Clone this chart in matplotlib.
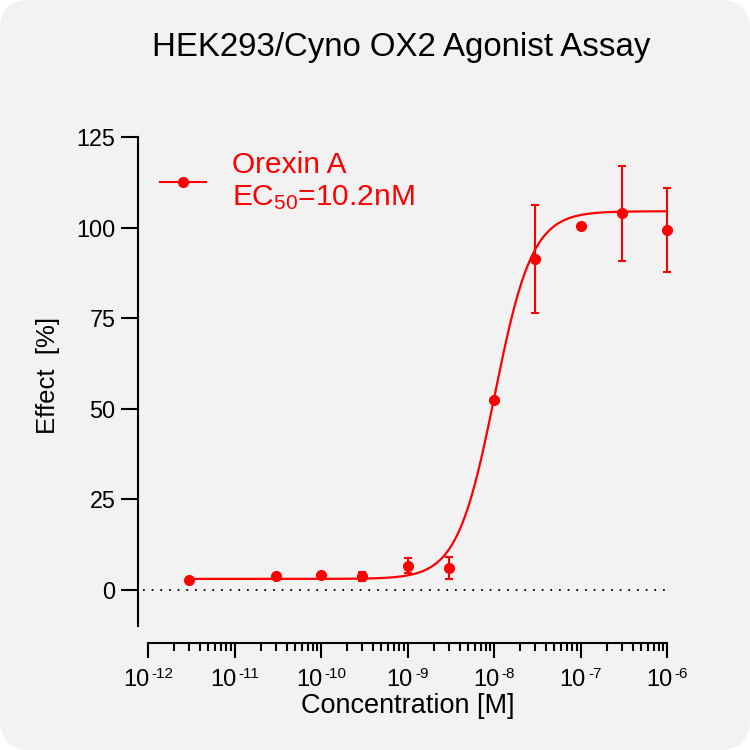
import numpy as np
import matplotlib
matplotlib.use("Agg")
import matplotlib.pyplot as plt
from matplotlib.lines import Line2D
from matplotlib.patches import FancyBboxPatch
from matplotlib.ticker import FixedLocator, LogLocator, NullFormatter

plt.rcParams['font.family'] = ['Liberation Sans', 'DejaVu Sans']
plt.rcParams['mathtext.fontset'] = 'custom'
plt.rcParams['mathtext.rm'] = 'Liberation Sans'
plt.rcParams['mathtext.it'] = 'Liberation Sans:italic'
plt.rcParams['mathtext.bf'] = 'Liberation Sans:bold'

# ---- data ----
conc = [3e-12, 3e-11, 1e-10, 3e-10, 1e-9, 3e-9, 1e-8, 3e-8, 1e-7, 3e-7, 1e-6]
effect = [2.8, 3.8, 4.0, 3.7, 6.7, 6.0, 52.4, 91.3, 100.4, 103.9, 99.3]
sem = [0.0, 0.0, 0.0, 1.3, 2.2, 3.1, 0.0, 14.9, 0.0, 13.1, 11.6]

# 4PL fit parameters
fit_bottom = 3.0
fit_top = 104.5
fit_ec50 = 1.02e-8
fit_hill = 2.0

x_ticks = [1e-12, 1e-11, 1e-10, 1e-9, 1e-8, 1e-7, 1e-6]
x_tick_base = "10"
x_exponents = ['-12', '-11', '-10', '-9', '-8', '-7', '-6']
y_ticks = [0, 25, 50, 75, 100, 125]

title = "HEK293/Cyno OX2 Agonist Assay"
series_label = "Orexin A\nEC$_{50}$=10.2nM"
RED = '#ff0000'

# ---- figure ----
fig = plt.figure(figsize=(7.5, 7.5), dpi=100)
fig.patch.set_facecolor('white')
bg = FancyBboxPatch((0, 0), 1, 1, boxstyle="round,pad=0,rounding_size=0.04",
                    transform=fig.transFigure, facecolor='#f2f2f2', edgecolor='none', zorder=-10)
fig.patches.append(bg)

ax = fig.add_axes([148/750, 1-626/750, (667-148)/750, (626-137)/750])
ax.set_facecolor('none')
ax.set_xscale('log')
ax.set_xlim(1e-12, 1e-6)
ax.set_ylim(-10, 125)

# zero reference line
ax.axhline(0, xmin=-0.01, xmax=1.0, color='black', ls=(0, (1, 3.8)), lw=1.3, clip_on=False, zorder=1)

# fitted curve
xs = np.logspace(np.log10(conc[0]), np.log10(conc[-1]), 500)
ys = fit_bottom + (fit_top - fit_bottom) / (1 + (fit_ec50 / xs) ** fit_hill)
ax.plot(xs, ys, color=RED, lw=1.6, zorder=3, clip_on=False)

# error bars (only where present)
c = np.array(conc); e = np.array(effect); s = np.array(sem)
m = s > 0
eb = ax.errorbar(c[m], e[m], yerr=s[m], fmt='none', ecolor=RED, elinewidth=1.5,
                 capsize=3, capthick=1.5, zorder=4)
for art in eb.lines[1] + eb.lines[2]:
    art.set_clip_on(False)
ax.plot(c, e, 'o', color=RED, ms=7, zorder=5, clip_on=False)

# spines
for sp in ['top', 'right']:
    ax.spines[sp].set_visible(False)
ax.spines['left'].set_position(('outward', 7.2))
ax.spines['bottom'].set_position(('outward', 12.2))
ax.spines['left'].set_linewidth(1.5)
ax.spines['bottom'].set_linewidth(1.5)

ax.yaxis.set_major_locator(FixedLocator(y_ticks))
ax.tick_params(axis='y', which='major', length=12.2, width=1.5, labelsize=16.8, pad=4)
ax.xaxis.set_major_locator(FixedLocator(x_ticks))
ax.xaxis.set_minor_locator(LogLocator(base=10, subs=np.arange(2, 10), numticks=20))
ax.xaxis.set_minor_formatter(NullFormatter())
ax.tick_params(axis='x', which='major', length=10.8, width=1.5, labelbottom=False)
ax.tick_params(axis='x', which='minor', length=5.8, width=1.5)

# x tick labels: "10" with a small raised exponent, centred on each tick
renderer = fig.canvas.get_renderer()
GAP = 2.0
BASE_Y = -60
SUP_Y = -52
for t, ex in zip(x_ticks, x_exponents):
    a = ax.annotate(x_tick_base, xy=(t, 0), xycoords=ax.get_xaxis_transform(),
                    xytext=(0, BASE_Y), textcoords='offset pixels', ha='left', va='baseline',
                    fontsize=17, annotation_clip=False)
    b = ax.annotate(ex, xy=(t, 0), xycoords=ax.get_xaxis_transform(),
                    xytext=(0, SUP_Y), textcoords='offset pixels', ha='left', va='baseline',
                    fontsize=11, annotation_clip=False)
    w1 = a.get_window_extent(renderer).width
    w2 = b.get_window_extent(renderer).width
    total = w1 + GAP + w2
    a.xyann = (-total / 2, BASE_Y)
    b.xyann = (-total / 2 + w1 + GAP, SUP_Y)

ax.set_xlabel("Concentration [M]", fontsize=19.5, labelpad=25)
ax.set_ylabel("Effect  [%]", fontsize=18.5, labelpad=12)
ax.yaxis.label.set_y(0.512)

handle = Line2D([], [], color=RED, marker='o', ms=7, lw=1.5)
leg = ax.legend([handle], [series_label], loc='upper left', bbox_to_anchor=(0.006, 0.99),
                frameon=False, fontsize=21.5, labelcolor=RED, handlelength=1.55,
                handletextpad=0.85, borderpad=0, borderaxespad=0.3)

fig.text(401/750, 1-56/750, title, ha='center', va='baseline', fontsize=23.8)

fig.savefig('out.png', dpi=100, facecolor=fig.get_facecolor())
